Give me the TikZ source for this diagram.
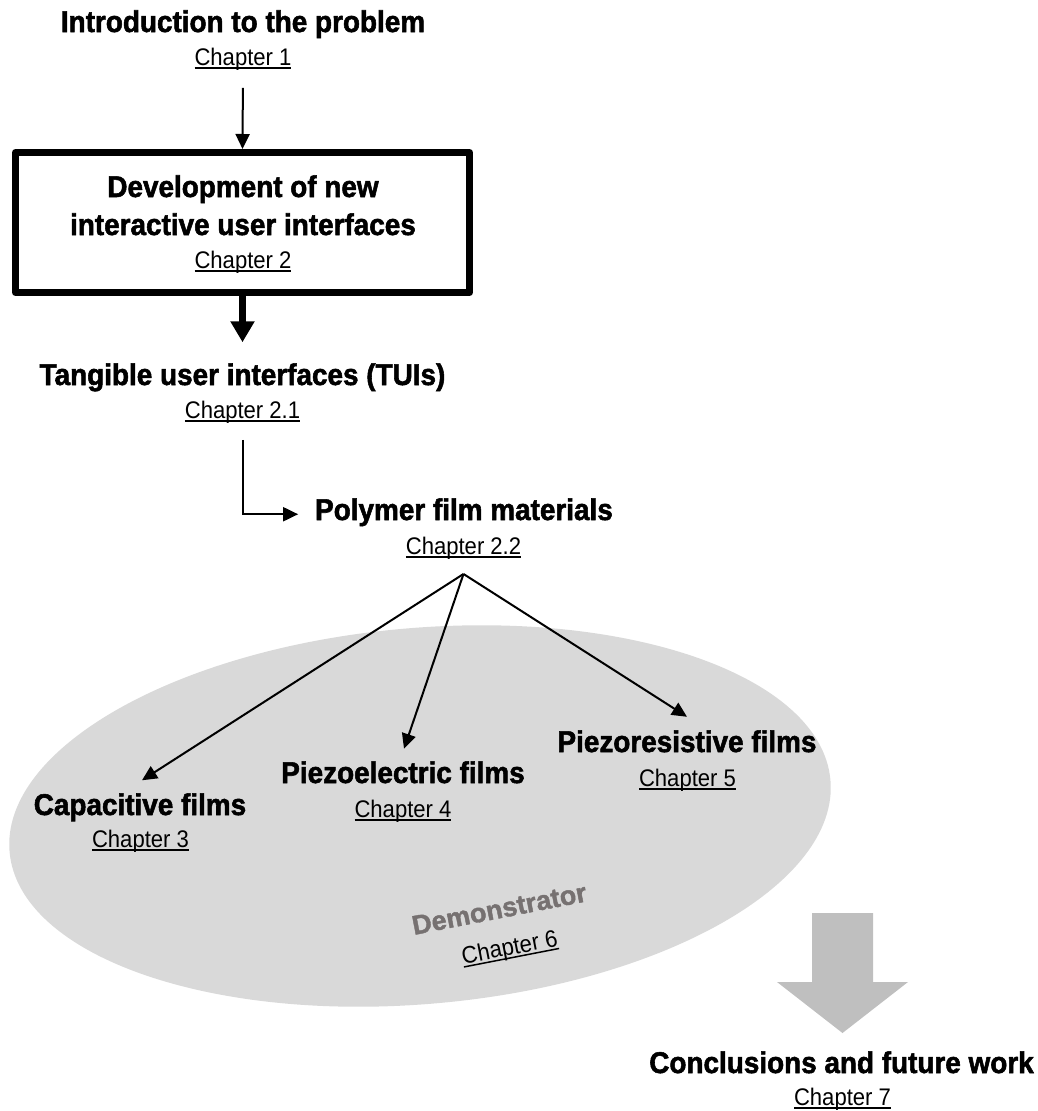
\documentclass[tikz,border=0pt]{standalone}
\usepackage{fontspec}
\setmainfont{Liberation Sans}
\newfontfamily\heavyfont{Liberation Sans}[BoldFeatures={FakeBold=1.8,FakeStretch=0.93}]
\newfontfamily\demofont{Liberation Sans}[BoldFeatures={FakeBold=1.5}]
\newfontfamily\chapfont{Liberation Sans}[FakeStretch=0.92]
\usetikzlibrary{arrows.meta}
\definecolor{ellgray}{HTML}{D9D9D9}
\definecolor{arrgray}{HTML}{BFBFBF}
\definecolor{demgray}{HTML}{767171}
\newsavebox\chbox
\newcommand\chapul[1]{\sbox\chbox{#1}\rlap{\rule[-3.5pt]{\wd\chbox}{1.5pt}}\usebox\chbox}
\tikzset{
  title/.style={font=\heavyfont\fontsize{30}{34}\selectfont\bfseries, inner sep=0pt, outer sep=0pt, anchor=base},
  chap/.style={font=\chapfont\fontsize{24}{28}\selectfont, inner sep=0pt, outer sep=0pt, anchor=base},
  demo/.style={font=\demofont\fontsize{27}{30}\selectfont\bfseries, text=demgray, inner sep=0pt, outer sep=0pt, anchor=base},
  thinarrow/.style={line width=2pt, -{Triangle[width=14pt,length=15pt]}},
  thickarrow/.style={line width=7pt, -{Triangle[width=23pt,length=21pt]}},
  mainbox/.style={draw, line width=7pt, line join=round, minimum width=454pt, minimum height=140pt, inner sep=0pt}
}
\begin{document}
\begin{tikzpicture}[x=1pt,y=-1pt]
\useasboundingbox (0,0) rectangle (1038,1111);
% demonstrator area
\fill[ellgray, rotate around={5:(420,816)}] (420,816) ellipse [x radius=412pt, y radius=188pt];
\fill[arrgray] (812,913) -- (873,913) -- (873,982) -- (908,982) -- (842.5,1033) -- (777,982) -- (812,982) -- cycle;

% nodes
\node[title] (intro) at (243,32) {Introduction to the problem};
\node[chap] (intro-ch) at (243,65) {\chapul{Chapter 1}};

\node[mainbox] (dev) at (242.5,222.5) {};
\node[title] (dev1) at (243,197) {Development of new};
\node[title] (dev2) at (243,235) {interactive user interfaces};
\node[chap] (dev-ch) at (243,268) {\chapul{Chapter 2}};

\node[title] (tui) at (242.5,385) {Tangible user interfaces (TUIs)};
\node[chap] (tui-ch) at (242.5,418) {\chapul{Chapter 2.1}};

\node[title] (poly) at (464,520) {Polymer film materials};
\node[chap] (poly-ch) at (463.5,554) {\chapul{Chapter 2.2}};

\node[title] (cap) at (140,815) {Capacitive films};
\node[chap] (cap-ch) at (140.5,847) {\chapul{Chapter 3}};

\node[title] (pie) at (403,783) {Piezoelectric films};
\node[chap] (pie-ch) at (403,817) {\chapul{Chapter 4}};

\node[title] (pres) at (687,752) {Piezoresistive films};
\node[chap] (pres-ch) at (687.5,786) {\chapul{Chapter 5}};

\node[demo, rotate=11] (demo) at (501,918) {Demonstrator};
\node[chap, rotate=11] (demo-ch) at (511,955) {\chapul{Chapter 6}};

\node[title] (concl) at (841.5,1073) {Conclusions and future work};
\node[chap] (concl-ch) at (842.5,1105) {\chapul{Chapter 7}};

% connectors
\draw[thinarrow, shorten <=18pt] (intro-ch.south) -- (dev.north);
\draw[thickarrow, shorten >=21pt] (dev.south) -- (tui.north);
\draw[thinarrow, shorten <=17pt, shorten >=17pt] (tui-ch.south) |- ([yshift=-2pt]poly.west);
\coordinate (fan) at ([yshift=-15pt]poly-ch.south);
\draw[thinarrow] (fan) -- ([yshift=13pt,xshift=2pt]cap.north);
\draw[thinarrow] (fan) -- ([yshift=12.5pt,xshift=1pt]pie.north);
\draw[thinarrow] (fan) -- ([yshift=13.5pt]pres.north);
\end{tikzpicture}
\end{document}
